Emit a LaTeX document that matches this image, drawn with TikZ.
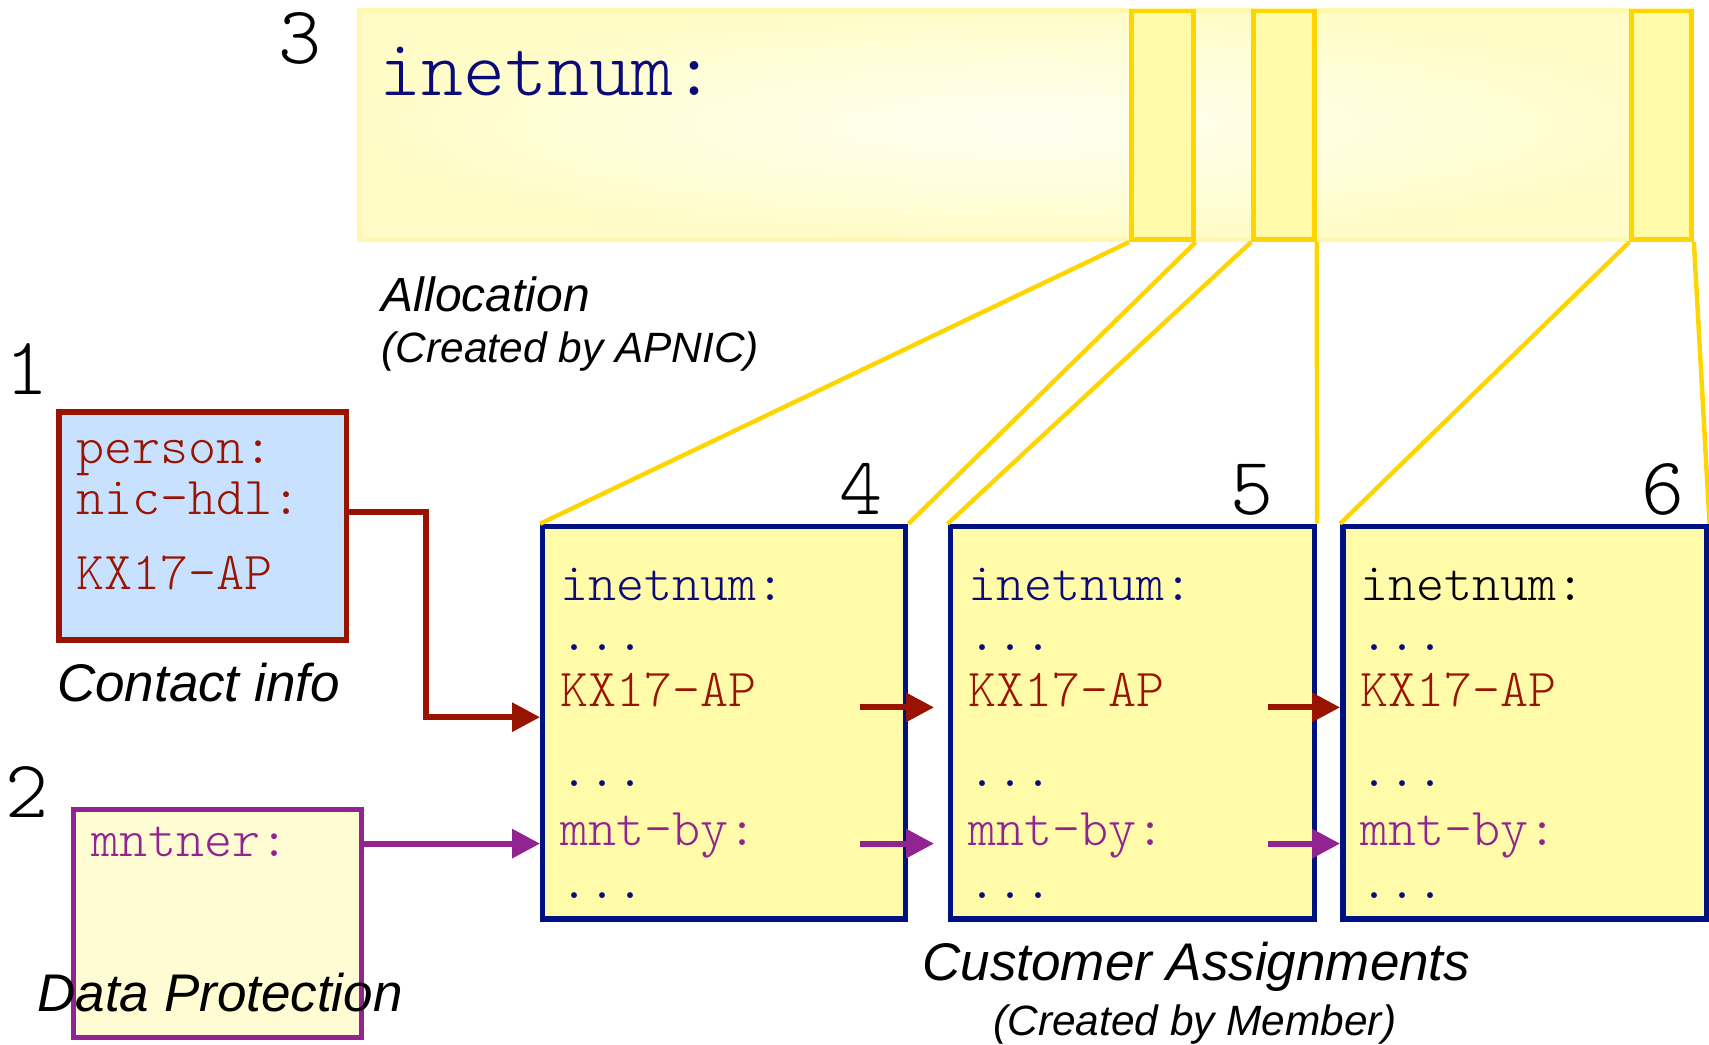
\documentclass[tikz,border=0pt]{standalone}
\usepackage{fontspec}
\setmainfont{Liberation Sans}
\setmonofont{Latin Modern Mono Light}
\usetikzlibrary{arrows.meta,fit}
\definecolor{navy}{RGB}{0,18,128}
\definecolor{textnavy}{RGB}{10,10,120}
\definecolor{darkred}{RGB}{153,20,0}
\definecolor{purp}{RGB}{146,36,146}
\definecolor{lightblue}{RGB}{200,225,255}
\definecolor{gold}{RGB}{255,213,0}
\definecolor{boxfill}{RGB}{255,251,168}
\definecolor{mntfill}{RGB}{255,252,212}
\definecolor{bigborder}{RGB}{255,248,176}
\tikzset{
  cbox/.style={draw=navy, line width=2.7pt, fill=boxfill, inner sep=0pt},
  mono/.style={font=\ttfamily\fontsize{26.7pt}{30pt}\selectfont, anchor=base west, inner sep=0pt},
  bigmono/.style={font=\ttfamily\fontsize{40pt}{44pt}\selectfont, anchor=base west, inner sep=0pt, text=textnavy},
  caplab/.style={font=\itshape\fontsize{26.5pt}{30pt}\selectfont, anchor=base west, inner sep=0pt},
  subcap/.style={font=\itshape\fontsize{21.2pt}{25pt}\selectfont, anchor=base west, inner sep=0pt},
  num/.style={font=\ttfamily\fontsize{41pt}{46pt}\selectfont, anchor=base, inner sep=0pt},
  goldline/.style={draw=gold, line width=2.2pt},
  redarrow/.style={draw=darkred, line width=3pt, -{Triangle[length=14pt,width=14pt]}},
  purparrow/.style={draw=purp, line width=3pt, -{Triangle[length=14pt,width=14pt]}},
  hilite/.style={draw=gold, line width=2.3pt, fill=boxfill, inner sep=0pt},
}
\begin{document}
\begin{tikzpicture}[x=0.545pt,y=-0.545pt]
\useasboundingbox (0,0) rectangle (1568,958);

% allocation
\node[fit={(330,10) (1552,220)}, inner sep=0pt, draw=bigborder, line width=2.5pt,
      inner color={rgb,255:red,255;green,255;blue,242}, outer color={rgb,255:red,255;green,252;blue,200}] (alloc) {};
\node[hilite, fit={(1038,10) (1095,220)}] (r1) {};
\node[hilite, fit={(1150,10) (1206,220)}] (r2) {};
\node[hilite, fit={(1497,10) (1552,220)}] (r3) {};
\node[bigmono] (allocip) at (348,88) {inetnum:};
\node[num] (n3) at (275,58) {3};
\node[caplab, font=\itshape\fontsize{24pt}{28pt}\selectfont] (alloclab) at (350,286) {Allocation};
\node[subcap] (allocsub) at (350,333) {(Created by APNIC)};

% customer boxes
\node[cbox, fit={(498,483) (831,843)}] (b4) {};
\node[cbox, fit={(872,483) (1206,843)}] (b5) {};
\node[cbox, fit={(1232,483) (1566,843)}] (b6) {};

% gold connectors
\draw[goldline] (r1.south west) -- (b4.north west);
\draw[goldline] (r1.south east) -- (b4.north east);
\draw[goldline] (r2.south west) -- (b5.north west);
\draw[goldline] (r2.south east) -- (b5.north east);
\draw[goldline] (r3.south west) -- (b6.north west);
\draw[goldline] (r3.south east) -- (b6.north east);

\node[num] (n4) at (790,472) {4};
\node[num] (n5) at (1149,472) {5};
\node[num] (n6) at (1526,472) {6};

% box texts
\foreach \bx/\nm/\ic in {514/a/textnavy, 888/b/textnavy, 1248/c/black}{
  \node[mono, text=\ic] (ip\nm) at (\bx,551) {inetnum:};
  \node[mono, text=textnavy] (d1\nm) at (\bx,597) {...};
  \node[mono, text=darkred] (kx\nm) at (\bx,648) {KX17-AP};
  \node[mono, text=textnavy] (d2\nm) at (\bx,722) {...};
  \node[mono, text=purp] (mb\nm) at (\bx,776) {mnt-by:};
  \node[mono, text=textnavy] (d3\nm) at (\bx,824) {...};
}

\node[caplab] (custlab) at (846,900) {Customer Assignments};
\node[subcap] (custsub) at (911,950) {(Created by Member)};

% person
\node[num] (n1) at (25,362) {1};
\node[fit={(54,378) (318,587)}, draw=darkred, line width=2.7pt, fill=lightblue, inner sep=0pt] (p) {};
\node[mono, text=darkred] (pp) at (70,425) {person:};
\node[mono, text=darkred] (pn) at (70,472) {nic-hdl:};
\node[mono, text=darkred] (pk) at (70,541) {KX17-AP};
\node[caplab] (contlab) at (52,644) {Contact info};

% mntner
\node[num] (n2) at (25,750) {2};
\node[fit={(67,743) (332,952)}, draw=purp, line width=2.5pt, fill=mntfill, inner sep=0pt] (m) {};
\node[mono, text=purp] (mt) at (84,786) {mntner:};
\node[caplab] (dplab) at (34,928) {Data Protection};

% arrows
\coordinate (redy) at (0,658);
\coordinate (purpy) at (0,774);
\draw[redarrow] ([yshift=7pt]p.east) -| (391,658) -- (b4.west |- redy);
\draw[purparrow] (m.east |- purpy) -- (b4.west |- purpy);

\coordinate (ra1) at (789,649);
\coordinate (ra1e) at (857,649);
\coordinate (ra2) at (1163,649);
\coordinate (pa1) at (789,774);
\coordinate (pa1e) at (857,774);
\coordinate (pa2) at (1163,774);
\draw[redarrow] (ra1) -- (ra1e);
\draw[redarrow] (ra2) -- (b6.west |- ra2);
\draw[purparrow] (pa1) -- (pa1e);
\draw[purparrow] (pa2) -- (b6.west |- pa2);
\end{tikzpicture}
\end{document}
